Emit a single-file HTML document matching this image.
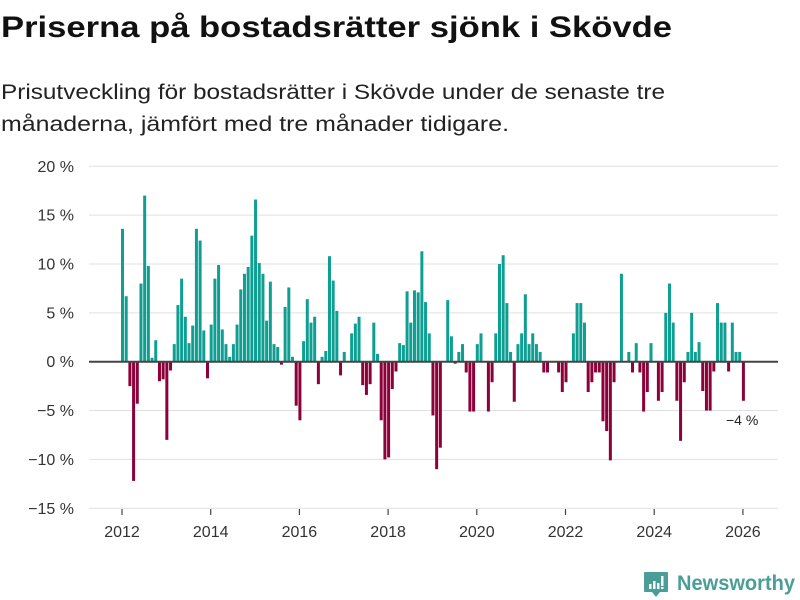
<!DOCTYPE html>
<html><head><meta charset="utf-8"><style>
html,body{margin:0;padding:0;background:#fff;}
svg{display:block;font-family:"Liberation Sans","DejaVu Sans",sans-serif;}
</style></head><body>
<svg id="chart" width="800" height="600" viewBox="0 0 800 600" xmlns="http://www.w3.org/2000/svg">
<text x="1" y="37" font-size="30" font-weight="bold" fill="#111" textLength="671" lengthAdjust="spacingAndGlyphs">Priserna på bostadsrätter sjönk i Skövde</text>
<text x="1" y="99" font-size="21" fill="#222" textLength="664" lengthAdjust="spacingAndGlyphs">Prisutveckling för bostadsrätter i Skövde under de senaste tre</text>
<text x="1" y="131" font-size="21" fill="#222" textLength="508" lengthAdjust="spacingAndGlyphs">månaderna, jämfört med tre månader tidigare.</text>
<g id="grid"></g><g id="bars"></g><g id="axes"></g>
<text x="726" y="425" font-size="14" fill="#222">−4 %</text>
<g>
<path d="M645 572 h22 a1 1 0 0 1 1 1 v18 a1 1 0 0 1 -1 1 h-7 l-4 5 l-4 -5 h-7 a1 1 0 0 1 -1 -1 v-18 a1 1 0 0 1 1 -1z" fill="#4a9e97"/>
<rect x="649" y="584" width="2.5" height="5" fill="#fff"/><rect x="653" y="581" width="2.5" height="8" fill="#fff"/><rect x="657" y="583" width="2.5" height="6" fill="#fff"/><rect x="661" y="576" width="2.5" height="10" fill="#fff"/><rect x="661" y="587" width="2.5" height="2" fill="#fff"/>
<text x="677" y="590" font-size="21" font-weight="bold" fill="#4a9e97" textLength="118" lengthAdjust="spacingAndGlyphs">Newsworthy</text>
</g>
</svg>
<script>
const values = [
13.6,6.7,-2.5,-12.2,-4.3,8.0,17.0,9.8,0.4,2.2,-2.0,-1.8,
-8.0,-0.9,1.8,5.8,8.5,4.6,1.9,3.7,13.6,12.4,3.2,-1.7,
3.8,8.5,9.9,3.3,1.8,0.5,1.8,3.8,7.4,9.0,9.7,12.9,
16.6,10.1,9.0,4.2,8.2,1.8,1.5,-0.3,5.6,7.6,0.5,-4.5,
-6.0,2.1,6.4,4.0,4.6,-2.3,0.5,1.1,10.8,8.3,5.2,-1.4,
1.0,0,2.9,3.9,4.6,-2.4,-3.4,-2.3,4.0,0.8,-6.0,-10.0,
-9.8,-2.8,-1.0,1.9,1.7,7.2,4.0,7.3,7.1,11.3,6.1,2.9,
-5.5,-11.0,-8.8,0,6.3,2.6,-0.2,1.0,1.8,-1.1,-5.1,-5.1,
1.8,2.9,0,-5.1,-2.1,2.9,10.0,10.9,6.0,1.0,-4.1,1.8,
2.9,6.9,1.8,2.9,1.8,1.0,-1.1,-1.1,0,0,-1.1,-3.1,
-2.1,0,2.9,6.0,6.0,4.0,-3.1,-2.1,-1.1,-1.1,-6.1,-7.1,
-10.1,-2.1,0,9.0,0,1.0,-1.1,1.9,-1.1,-5.1,-3.1,1.9,
0,-4.0,-3.1,5.0,8.0,4.0,-4.0,-8.1,-2.1,1.0,5.0,1.0,
2.0,-3.0,-5.0,-5.0,-1.0,6.0,4.0,4.0,-1.0,4.0,1.0,1.0,-4.0];
const startYear = 2012;
const yTicks = [20,15,10,5,0,-5,-10,-15];
const xTickYears = [2012,2014,2016,2018,2020,2022,2024,2026];

const NS='http://www.w3.org/2000/svg';
function yScale(v){return 361.7 - v*9.77;}
function xYear(y){return 122 + (y-2012)*44.35;}
function xMonth(i){return xYear(startYear + i/12);}
function mk(tag,attrs,parent){const e=document.createElementNS(NS,tag);for(const k in attrs)e.setAttribute(k,attrs[k]);parent.appendChild(e);return e;}
const grid=document.getElementById('grid'),bars=document.getElementById('bars'),axes=document.getElementById('axes');
yTicks.forEach(t=>{
  const y=yScale(t);
  const l=mk('line',{x1:89,x2:778,y1:y,y2:y,stroke:'#e0e0e0','stroke-width':1},grid);
  
  
  const tx=mk('text',{x:74,y:y+5.5,'text-anchor':'end','font-size':16,fill:'#333'},grid);
  tx.textContent=(t<0?'−'+(-t):t)+' %';
  
  
});
values.forEach((v,i)=>{
  if(v===0)return;
  const x=xMonth(i)-1;
  const y0=yScale(0),y1=yScale(v);
  const r=mk('rect',{x:x,y:Math.min(y0,y1),width:3,height:Math.abs(y1-y0),fill:v>0?'#0f9e92':'#8c0139'},bars);
  
  
});
const zl=mk('line',{x1:89,x2:778,y1:yScale(0),y2:yScale(0),stroke:'#444','stroke-width':2},axes);


xTickYears.forEach(yr=>{
  const x=xYear(yr);
  const tk=mk('line',{x1:x,x2:x,y1:509,y2:515,stroke:'#444','stroke-width':1.2},axes);
  
  
  const tx=mk('text',{x:x,y:537,'text-anchor':'middle','font-size':16,fill:'#333'},axes);
  tx.textContent=yr;
  
  
});
</script>
</body></html>
